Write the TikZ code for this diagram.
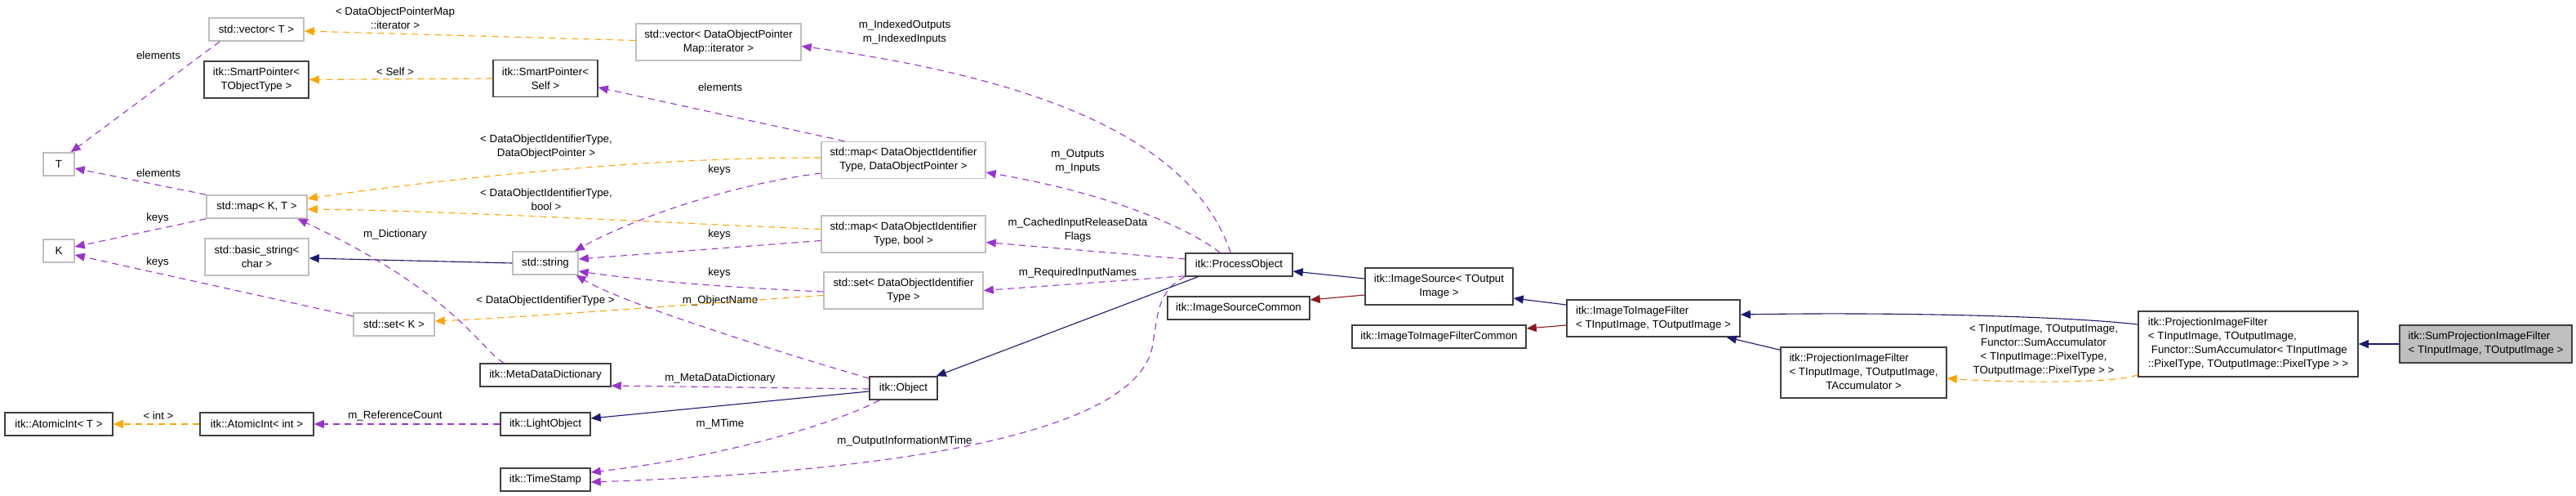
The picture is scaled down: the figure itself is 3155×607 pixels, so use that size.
\documentclass[tikz,border=0pt]{standalone}
\usepackage{fontspec}
\setmainfont{Liberation Sans}
\usetikzlibrary{arrows.meta,calc}
\definecolor{epurple}{HTML}{9A32CD}
\definecolor{eorange}{HTML}{FFA500}
\definecolor{enavy}{HTML}{191970}
\definecolor{ered}{HTML}{8B1A1A}
\definecolor{gborder}{HTML}{BFBFBF}
\definecolor{dborder}{HTML}{404040}
\definecolor{gfill}{HTML}{BFBFBF}
\newcommand\dfont{\fontsize{13.3pt}{17pt}\selectfont}
\begin{document}
\begin{tikzpicture}[x=1pt,y=-1pt,
  box/.style={draw=dborder,line width=1.5pt,fill=white,inner sep=0pt,font=\dfont,align=center},
  gbox/.style={box,draw=gborder},
  lbl/.style={font=\dfont,align=center,inner sep=0pt},
  tip/.style={-{Triangle[length=12pt,width=10pt]}},
  member/.style={tip,draw=epurple,line width=1.1pt,dash pattern=on 8pt off 6pt},
  templ/.style={tip,draw=eorange,line width=1.1pt,dash pattern=on 8pt off 6pt},
  inherit/.style={tip,draw=enavy,line width=1.1pt},
  priv/.style={tip,draw=ered,line width=1.1pt}]
\fill[white] (0,0) rectangle (3155,607);
\useasboundingbox (0,0) rectangle (3155,607);
% nodes
\node[gbox,minimum width=116pt,minimum height=28pt] (vecT) at (314,36) {std::vector< T >};
\node[box,minimum width=128pt,minimum height=45pt] (spTO) at (314,97.5) {itk::SmartPointer<\\TObjectType >};
\node[gbox,minimum width=38pt,minimum height=28pt] (T) at (72,201) {T};
\node[gbox,minimum width=123pt,minimum height=28pt] (mapKT) at (314.5,253) {std::map< K, T >};
\node[gbox,minimum width=38pt,minimum height=28pt] (K) at (72,307) {K};
\node[gbox,minimum width=127pt,minimum height=45pt] (bstr) at (314.5,314.5) {std::basic\_string<\\char >};
\node[gbox,minimum width=99pt,minimum height=28pt] (setK) at (482.5,397) {std::set< K >};
\node[box,minimum width=132pt,minimum height=28pt] (AtomicT) at (72,519) {itk::AtomicInt< T >};
\node[box,minimum width=139pt,minimum height=28pt] (AtomicInt) at (314.5,519) {itk::AtomicInt< int >};
\node[box,minimum width=160pt,minimum height=28pt] (MDD) at (668,459) {itk::MetaDataDictionary};
\node[box,minimum width=110pt,minimum height=28pt] (LightObject) at (668,519) {itk::LightObject};
\node[box,minimum width=110pt,minimum height=28pt] (TimeStamp) at (668,587) {itk::TimeStamp};
\node[gbox,minimum width=80pt,minimum height=28pt] (string) at (668,322) {std::string};
\node[box,minimum width=128pt,minimum height=45pt] (spSelf) at (668,96) {itk::SmartPointer<\\Self >};
\node[gbox,minimum width=202pt,minimum height=45pt] (vecDOPMI) at (880,51.5) {std::vector< DataObjectPointer\\Map::iterator >};
\node[gbox,minimum width=201pt,minimum height=45pt] (mapDOP) at (1106.5,196) {std::map< DataObjectIdentifier\\Type, DataObjectPointer >};
\node[gbox,minimum width=201pt,minimum height=45pt] (mapBool) at (1106.5,286.5) {std::map< DataObjectIdentifier\\Type, bool >};
\node[gbox,minimum width=195pt,minimum height=45pt] (setDOI) at (1106.5,355.5) {std::set< DataObjectIdentifier\\Type >};
\node[box,minimum width=83pt,minimum height=28pt] (Object) at (1106.5,475) {itk::Object};
\node[box,minimum width=131pt,minimum height=28pt] (PO) at (1517.5,324) {itk::ProcessObject};
\node[box,minimum width=174pt,minimum height=28pt] (ISC) at (1517,377) {itk::ImageSourceCommon};
\node[box,minimum width=181pt,minimum height=45pt] (ImageSource) at (1762.5,350.5) {itk::ImageSource< TOutput\\Image >};
\node[box,minimum width=213pt,minimum height=28pt] (I2IFC) at (1762.5,412) {itk::ImageToImageFilterCommon};
\node[box,minimum width=212pt,minimum height=45pt,align=left] (I2IF) at (2025,389.5) {itk::ImageToImageFilter\\< TInputImage, TOutputImage >};
\node[box,minimum width=203pt,minimum height=62pt] (PIF3) at (2282.5,456) {\begin{tabular}{@{}l@{}}itk::ProjectionImageFilter\\< TInputImage, TOutputImage,\\\multicolumn{1}{@{}c@{}}{TAccumulator >}\end{tabular}};
\node[box,minimum width=269pt,minimum height=80pt,align=left] (PFS) at (2753.5,421) {itk::ProjectionImageFilter\\< TInputImage, TOutputImage,\\\hspace*{4pt}Functor::SumAccumulator< TInputImage\\::PixelType, TOutputImage::PixelType > >};
\node[box,fill=gfill,minimum width=211pt,minimum height=46pt,align=left] (SPF) at (3044.5,421) {itk::SumProjectionImageFilter\\< TInputImage, TOutputImage >};
% labels
\node[lbl] (l1) at (194,68) {elements};
\node[lbl] (l2) at (194,212) {elements};
\node[lbl] (l3) at (193,267) {keys};
\node[lbl] (l4) at (193,321) {keys};
\node[lbl] (l5) at (484,22) {< DataObjectPointerMap\\::iterator >};
\node[lbl] (l6) at (484,88) {< Self >};
\node[lbl] (l7) at (669,180) {< DataObjectIdentifierType,\\DataObjectPointer >};
\node[lbl] (l8) at (669,244) {< DataObjectIdentifierType,\\bool >};
\node[lbl] (l9) at (668,368) {< DataObjectIdentifierType >};
\node[lbl] (l10) at (484,287) {m\_Dictionary};
\node[lbl] (l11) at (882,107) {elements};
\node[lbl] (l12) at (881,208) {keys};
\node[lbl] (l13) at (881,287) {keys};
\node[lbl] (l14) at (881,334) {keys};
\node[lbl] (l15) at (882,368) {m\_ObjectName};
\node[lbl] (l16) at (882,463) {m\_MetaDataDictionary};
\node[lbl] (l17) at (882,519) {m\_MTime};
\node[lbl] (l18) at (1108,540) {m\_OutputInformationMTime};
\node[lbl] (l19) at (1108,40) {m\_IndexedOutputs\\m\_IndexedInputs};
\node[lbl] (l20) at (1320,198) {m\_Outputs\\m\_Inputs};
\node[lbl] (l21) at (1320,282) {m\_CachedInputReleaseData\\Flags};
\node[lbl] (l22) at (1320,334) {m\_RequiredInputNames};
\node[lbl] (l23) at (194,509) {< int >};
\node[lbl] (l24) at (484,509) {m\_ReferenceCount};
\node[lbl] (l25) at (2503,428.5) {< TInputImage, TOutputImage,\\Functor::SumAccumulator\\< TInputImage::PixelType,\\TOutputImage::PixelType > >};
% edges
\draw[member] ($(vecT.south west)+(14,0)$) -- ($(T.north east)+(-5,0)$);
\draw[member] (mapKT.north west) -- ($(T.east)+(0,5)$);
\draw[member] (mapKT.south west) -- ($(K.east)+(0,-5)$);
\draw[member] ($(setK.west)+(0,-10)$) -- ($(K.east)+(0,5)$);
\draw[templ] ($(vecDOPMI.west)+(0,-2)$) -- ($(vecT.east)+(0,2)$);
\draw[templ] (spSelf.west) -- (spTO.east);
\draw[templ] ($(mapDOP.west)+(0,-3)$) .. controls (800,192) and (550,218) .. ($(mapKT.east)+(0,-10)$);
\draw[templ] ($(mapBool.west)+(0,-6)$) .. controls (800,272) and (550,258) .. ($(mapKT.east)+(0,3)$);
\draw[templ] ($(setDOI.west)+(0,6)$) .. controls (850,372) and (650,388) .. ($(setK.east)+(0,-4)$);
\draw[inherit] (string.west) -- ($(bstr.east)+(0,1.5)$);
\draw[member] ($(mapDOP.north west)+(29,0)$) -- ($(spSelf.east)+(0,11)$);
\draw[member] ($(mapDOP.west)+(0,16)$) .. controls (900,225) and (780,265) .. ($(string.north east)+(-5,0)$);
\draw[member] ($(mapBool.west)+(0,8)$) -- ($(string.east)+(0,-5)$);
\draw[member] ($(setDOI.west)+(0,1.5)$) .. controls (900,352) and (800,345) .. ($(string.east)+(0,10)$);
\draw[member] ($(MDD.north west)+(30,0)$) .. controls (590,430) and (560,360) .. ($(mapKT.south)+(50,0)$);
\draw[member] ($(Object.west)+(0,-12)$) .. controls (950,430) and (760,370) .. ($(string.south east)+(-3,0)$);
\draw[member] ($(Object.west)+(0,1)$) -- ($(MDD.east)+(0,13)$);
\draw[inherit] ($(Object.west)+(0,4)$) -- ($(LightObject.east)+(0,-7)$);
\draw[member] ($(Object.south west)+(13,0)$) .. controls (1020,520) and (880,560) .. ($(TimeStamp.east)+(0,-9)$);
\draw[member] (PO.south west) .. controls (1418,355) and (1418,385) .. (1412,420) .. controls (1400,520) and (1150,575) .. ($(TimeStamp.east)+(0,3)$);
\draw[member] (LightObject.west) -- (AtomicInt.east);
\draw[templ] (AtomicInt.west) -- (AtomicT.east);
\draw[inherit] ($(PO.south west)+(16,0)$) -- ($(Object.north east)+(-2,0)$);
\draw[member] ($(PO.north west)+(43,0)$) .. controls (1450,275) and (1350,235) .. ($(mapDOP.east)+(0,15)$);
\draw[member] ($(PO.north west)+(56,0)$) .. controls (1470,200) and (1340,105) .. ($(vecDOPMI.east)+(0,5)$);
\draw[member] ($(PO.west)+(0,-7)$) -- ($(mapBool.east)+(0,10)$);
\draw[member] ($(PO.south west)+(0,-1)$) -- (setDOI.east);
\draw[inherit] ($(ImageSource.west)+(0,-9.5)$) -- ($(PO.east)+(0,8)$);
\draw[priv] ($(ImageSource.west)+(0,10.5)$) -- ($(ISC.east)+(0,-10)$);
\draw[inherit] ($(I2IF.west)+(0,-16.5)$) -- ($(ImageSource.east)+(0,14.5)$);
\draw[priv] ($(I2IF.west)+(0,8.5)$) -- ($(I2IFC.east)+(0,-10)$);
\draw[inherit] ($(PIF3.north west)+(0,4)$) -- ($(I2IF.south east)+(-17,0)$);
\draw[inherit] ($(PFS.west)+(0,-24)$) .. controls (2520,386) and (2300,382) .. ($(I2IF.east)+(0,-4.5)$);
\draw[templ] ($(PFS.south west)+(0,-3)$) .. controls (2590,470) and (2450,468) .. ($(PIF3.east)+(0,7)$);
\draw[inherit] (SPF.west) -- (PFS.east);
\end{tikzpicture}
\end{document}
